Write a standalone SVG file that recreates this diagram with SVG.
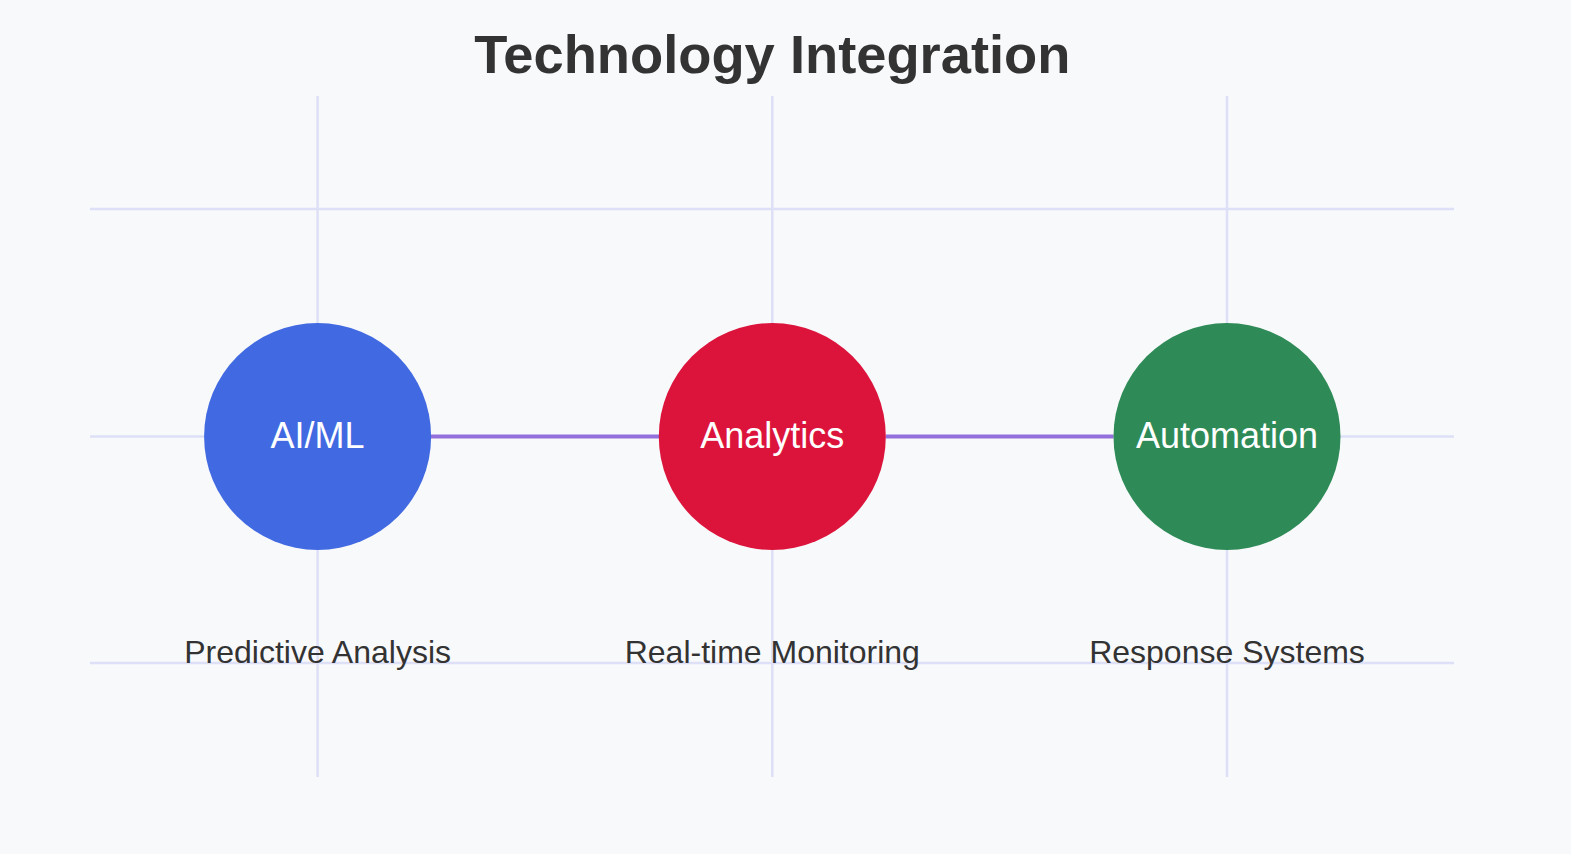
<svg xmlns="http://www.w3.org/2000/svg" width="1571" height="854" viewBox="0 0 1571 854">
  <style>
    .grid { stroke: #dde0f6; stroke-width: 2.5; fill: none; }
    .conn { stroke: #9370db; stroke-width: 4; fill: none; }
    .title { font-family: "Liberation Sans", Arial, sans-serif; font-weight: bold; font-size: 54.3px; fill: #333333; text-anchor: middle; }
    .label { font-family: "Liberation Sans", Arial, sans-serif; font-size: 36px; fill: #ffffff; text-anchor: middle; }
    .caption { font-family: "Liberation Sans", Arial, sans-serif; font-size: 32px; fill: #333333; text-anchor: middle; }
  </style>
  <rect x="0" y="0" width="1571" height="854" fill="#f8f9fb"/>
  <g id="grid">
    <line class="grid" x1="90" y1="209" x2="1454" y2="209"/>
    <line class="grid" x1="90" y1="436.5" x2="1454" y2="436.5"/>
    <line class="grid" x1="90" y1="663" x2="1454" y2="663"/>
    <line class="grid" x1="317.6" y1="96" x2="317.6" y2="777"/>
    <line class="grid" x1="772.3" y1="96" x2="772.3" y2="777"/>
    <line class="grid" x1="1227" y1="96" x2="1227" y2="777"/>
  </g>
  <text class="title" x="772.3" y="73">Technology Integration</text>
  <g id="connectors">
    <line class="conn" x1="431" y1="436.5" x2="659" y2="436.5"/>
    <line class="conn" x1="885.8" y1="436.5" x2="1113.5" y2="436.5"/>
  </g>
  <g id="node-aiml">
    <circle cx="317.6" cy="436.5" r="113.5" fill="#4169e1"/>
    <text class="label" x="317.6" y="448">AI/ML</text>
    <text class="caption" x="317.6" y="663">Predictive Analysis</text>
  </g>
  <g id="node-analytics">
    <circle cx="772.3" cy="436.5" r="113.5" fill="#dc143c"/>
    <text class="label" x="772.3" y="448">Analytics</text>
    <text class="caption" x="772.3" y="663">Real-time Monitoring</text>
  </g>
  <g id="node-automation">
    <circle cx="1227" cy="436.5" r="113.5" fill="#2e8b57"/>
    <text class="label" x="1227" y="448">Automation</text>
    <text class="caption" x="1227" y="663">Response Systems</text>
  </g>
</svg>
